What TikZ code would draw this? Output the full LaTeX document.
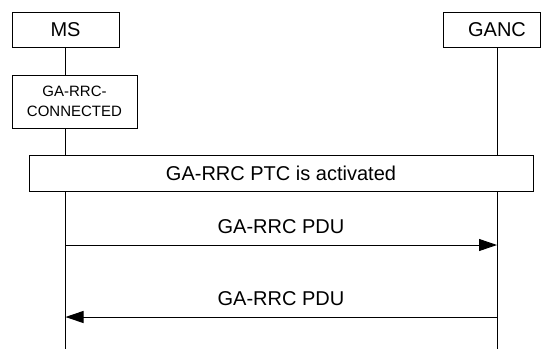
\documentclass[tikz,border=0pt]{standalone}
\usepackage{fontspec}
\setmainfont{Liberation Sans}
\usetikzlibrary{arrows.meta}
\begin{document}
\begin{tikzpicture}[x=1pt,y=-1pt,
  line width=0.9pt,
  big/.style={font=\fontsize{20}{24}\selectfont, text height=14.3pt, text depth=0pt, inner sep=0pt},
  box/.style={draw, fill=white, inner sep=0pt},
  msg/.style={-{Triangle[length=18pt,width=12pt]}}]
\useasboundingbox (0,0) rectangle (541,349);
% lifeline ends
\coordinate (mstop) at (65.5,47);
\coordinate (msend) at (65.5,349);
\coordinate (gtop) at (497,47);
\coordinate (gend) at (497,349);
\draw (mstop) -- (msend);
\draw (gtop) -- (gend);
% header boxes
\node[box, big, minimum width=107pt, minimum height=35pt] (ms) at (65.5,29.5) {MS};
\node[box, minimum width=97pt, minimum height=35pt] (ganc) at (491.5,29.5) {};
\node[big] (gancl) at (497,29.5) {GANC};
% state box
\node[box, minimum width=125pt, minimum height=53pt, align=center,
      font=\fontsize{15}{20}\selectfont] (conn) at (74.5,101.5) {GA-RRC-\\CONNECTED};
% wide box
\node[box, big, minimum width=504pt, minimum height=36pt] (ptc) at (281,173) {GA-RRC PTC is activated};
% messages
\coordinate (m1s) at (65.5,245);
\coordinate (m1e) at (497,245);
\coordinate (m2s) at (497,317);
\coordinate (m2e) at (65.5,317);
\draw[msg] (m1s) -- (m1e);
\node[big] (l1) at (281,226) {GA-RRC PDU};
\draw[msg] (m2s) -- (m2e);
\node[big] (l2) at (281,298) {GA-RRC PDU};
\end{tikzpicture}
\end{document}
